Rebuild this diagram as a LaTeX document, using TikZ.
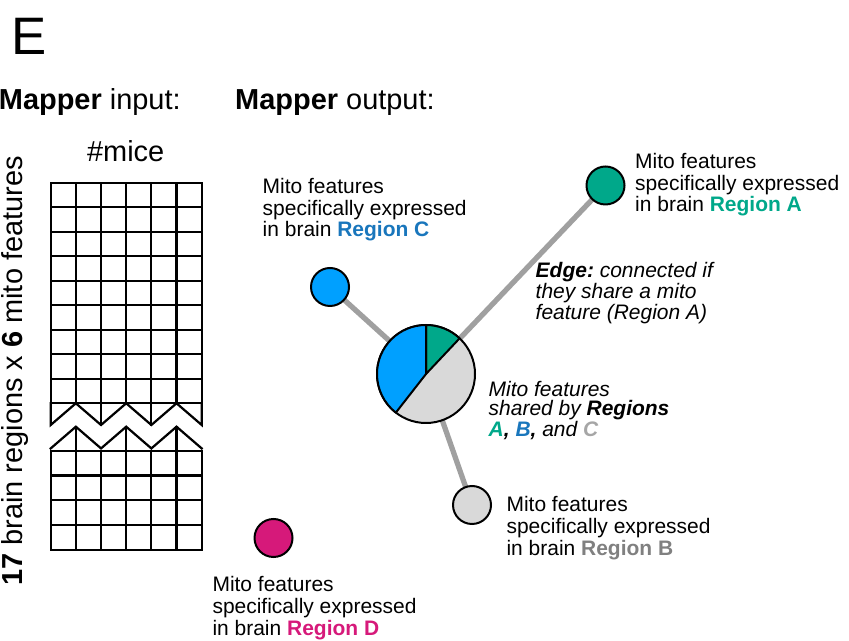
\documentclass[tikz,border=0pt]{standalone}
\usepackage{fontspec}
\setmainfont{Liberation Sans}
\usetikzlibrary{backgrounds}
\frenchspacing

\definecolor{regionA}{HTML}{00A88A}
\definecolor{regionC}{HTML}{00A0FF}
\definecolor{regionCtext}{HTML}{1976BC}
\definecolor{regionB}{HTML}{D9D9D9}
\definecolor{regionBtext}{HTML}{808080}
\definecolor{sharedC}{HTML}{A6A6A6}
\definecolor{regionD}{HTML}{D6197A}
\definecolor{edgegray}{HTML}{A0A0A0}

\tikzset{
  headtext/.style={inner sep=0, font=\fontsize{24.7}{29}\selectfont},
  nodetext/.style={anchor=north west, inner sep=0, align=left,
    font=\fontsize{17.9}{18.7}\selectfont},
  notetext/.style={anchor=north west, inner sep=0, align=left,
    font=\fontsize{17.9}{16.2}\selectfont\itshape},
  matrixline/.style={line width=1.9pt, line cap=rect, line join=miter},
  regionnode/.style={circle, draw=black, line width=1.7pt, inner sep=0,
    minimum size=1.14cm},
  mapperedge/.style={draw=edgegray, line width=4.5pt}
}

\begin{document}
\begin{tikzpicture}
  \useasboundingbox (0,0) rectangle (25.47,19.2);

  % Panel letter and the two headings
  \node (panel) [anchor=base west, inner sep=0, font=\fontsize{45}{54}\selectfont] at (0.324,17.55) {E};
  \node (inhead) [headtext, anchor=base west] at (-0.04,15.9) {\textbf{Mapper} input:};
  \node (outhead) [headtext, anchor=base west] at (7.05,15.9) {\textbf{Mapper} output:};

  % Input matrix: columns and rows
  \node (mice) [headtext, anchor=base] at (3.771,14.349) {\#mice};
  \node (matrixsize) [headtext, rotate=90, anchor=base] at (0.67,8.07)
    {\textbf{17} brain regions x \textbf{6} mito features};

  % Upper block, torn along its bottom row
  \begin{scope}[shift={(1.521,7.101)}, x=0.755cm, y=0.7353cm, matrixline]
    \foreach \c in {0,...,6}
      \draw (\c,0) -- (\c,9);
    \foreach \r in {0,...,9}
      \draw (0,\r) -- (6,\r);
    \draw (0,0) -- (0,-0.885) -- (1,0) -- (2,-0.885) -- (3,0) -- (4,-0.885)
      -- (5,0) -- (6,-0.885) -- (6,0);
    \draw (2,0) -- (2,-0.885);
    \draw (4,0) -- (4,-0.885);
  \end{scope}

  % Lower block, torn along its top row
  \begin{scope}[shift={(1.521,2.7)}, x=0.755cm, y=0.745cm, matrixline]
    \foreach \c in {0,...,6}
      \draw (\c,0) -- (\c,4);
    \foreach \r in {0,...,4}
      \draw (0,\r) -- (6,\r);
    \draw (0,4.09) -- (1,4.965) -- (2,4.09) -- (3,4.965) -- (4,4.09)
      -- (5,4.965) -- (6,4.09);
    \foreach \c in {1,3,5}
      \draw (\c,4) -- (\c,4.965);
  \end{scope}

  % Mapper graph: one node per region plus the shared pie node
  \node (regA) [regionnode, fill=regionA] at (18.165,13.635) {};
  \node (regC) [regionnode, fill=regionC] at (9.9,10.59) {};
  \node (regB) [regionnode, fill=regionB] at (14.16,4.05) {};
  \node (regD) [regionnode, fill=regionD] at (8.205,3.06) {};
  \node (pie) [circle, draw=black, line width=1.7pt, inner sep=0,
    minimum size=2.94cm, fill=regionB] at (12.78,7.98) {};

  % Pie slices for regions A and C
  \filldraw [fill=regionA, line width=1.7pt, line join=round]
    (pie.center) -- ++(46.7:1.47) arc (46.7:90:1.47) -- cycle;
  \filldraw [fill=regionC, line width=1.7pt, line join=round]
    (pie.center) -- ++(90:1.47) arc (90:232:1.47) -- cycle;

  % Edges sit behind the nodes
  \begin{pgfonlayer}{background}
    \draw [mapperedge] (pie.center) -- (regA.center);
    \draw [mapperedge] (pie.center) -- (regC.center);
    \draw [mapperedge] (pie.center) -- (regB.center);
  \end{pgfonlayer}

  % Node captions
  \node (labelC) [nodetext] at (7.875,13.869)
    {Mito features\\specifically expressed\\in brain \textcolor{regionCtext}{\textbf{Region C}}};
  \node (labelA) [nodetext] at (19.05,14.619)
    {Mito features\\specifically expressed\\in brain \textcolor{regionA}{\textbf{Region A}}};
  \node (labelB) [nodetext] at (15.19,4.308)
    {Mito features\\specifically expressed\\in brain \textcolor{regionBtext}{\textbf{Region B}}};
  \node (labelD) [nodetext] at (6.369,1.908)
    {Mito features\\specifically expressed\\in brain \textcolor{regionD}{\textbf{Region D}}};

  % Notes on the edge and on the pie
  \node (edgenote) [notetext] at (16.065,11.328)
    {\textbf{Edge:} connected if\\they share a mito\\feature (Region A)};
  \node (sharednote) [notetext] at (14.655,7.758)
    {Mito features\\shared by \textbf{Regions}\\\textbf{\textcolor{regionA}{A}, \textcolor{regionCtext}{B},} and \textbf{\textcolor{sharedC}{C}}};
\end{tikzpicture}
\end{document}
